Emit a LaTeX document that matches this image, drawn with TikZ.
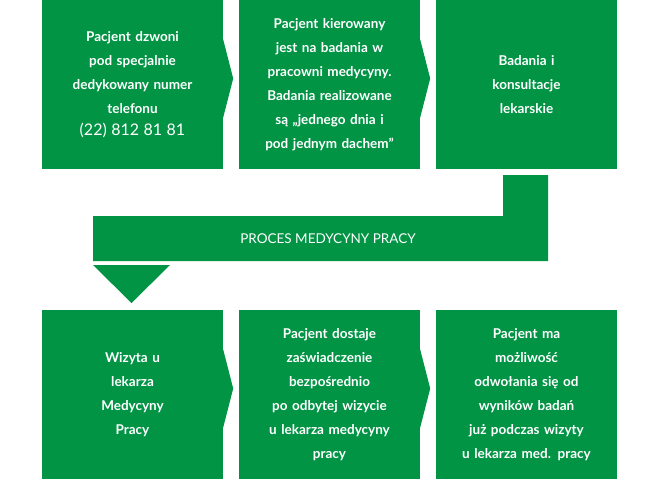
\documentclass[tikz,border=0pt]{standalone}
\usepackage{fontspec}
\setmainfont{Lato}
\usetikzlibrary{positioning}
\definecolor{medg}{RGB}{0,148,68}

\begin{document}
\begin{tikzpicture}[x=1pt, y=-1pt,
       box/.style={fill=medg, text=white, minimum width=181pt, minimum height=169pt,
         text width=165pt, align=center, inner sep=0pt,
         font=\bfseries\fontsize{13.5}{24}\selectfont},
       tip/.style={fill=medg}]
     \useasboundingbox (0,0) rectangle (658,480);
     % top row
     \node[box] (b1) at (132.5,84.5) {Pacjent dzwoni\\ pod specjalnie\\ dedykowany numer\\ telefonu\\[-2pt]
       {\mdseries\fontsize{16}{24}\selectfont (22) 812 81 81}\\[6pt]};
     \node[box] (b2) at (329.5,84.5) {Pacjent kierowany\\ jest na badania w\\ pracowni medycyny.\\ Badania realizowane\\ są „jednego dnia i\\ pod jednym dachem”};
     \node[box] (b3) at (526.5,84.5) {Badania i\\ konsultacje\\ lekarskie\\[60pt]};
     % bottom row
     \node[box] (b4) at (132.5,394.5) {Wizyta u\\ lekarza\\ Medycyny\\ Pracy};
     \node[box] (b5) at (329.5,394.5) {Pacjent dostaje\\ zaświadczenie\\ bezpośrednio\\ po odbytej wizycie\\ u lekarza medycyny\\ pracy};
     \node[box] (b6) at (526.5,394.5) {Pacjent ma\\ możliwość\\ odwołania się od\\ wyników badań\\ już podczas wizyty\\ u lekarza med. pracy};
     % notches
     \foreach \b in {b1,b2,b4,b5}
       \fill[tip] (\b.east) ++(0,-45) -- ++(10,39) -- ++(-10,39) -- cycle;
     % band
     \fill[medg] (503,175) -- (548,175) -- (548,261) -- (93,261) -- (93,216) -- (503,216) -- cycle;
     \node[text=white, font=\fontsize{13.5}{16}\selectfont] (band) at (328,238.5) {PROCES MEDYCYNY PRACY};
     \fill[tip] (93,265) -- (170,265) -- (131.5,303) -- cycle;
   \end{tikzpicture}
\end{document}
